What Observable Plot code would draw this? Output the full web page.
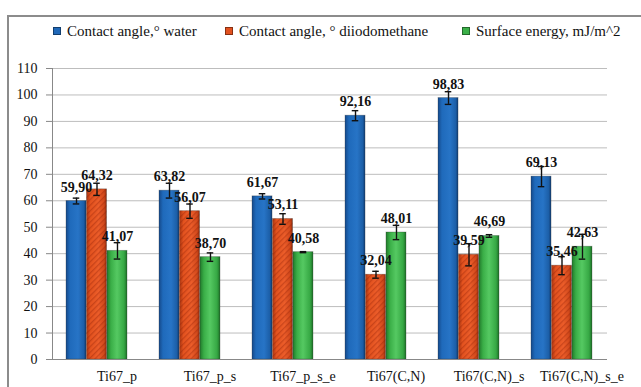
<!DOCTYPE html>
<html>
<head>
<meta charset="utf-8">
<script src="https://cdn.jsdelivr.net/npm/d3@7"></script>
<script src="https://cdn.jsdelivr.net/npm/@observablehq/plot@0.6"></script>
<style>
  body { margin: 0; background: #fff; font-family: "Liberation Serif", "Times New Roman", "DejaVu Serif", serif; }
  #wrap { position: relative; width: 641px; height: 387px; overflow: hidden; background: #fff; }
  #frame { position: absolute; left: 7px; top: 15px; width: 700px; height: 500px; border: 2px solid #8c8c8c; box-sizing: border-box; }
  #legend { position: absolute; left: 0; top: 22px; width: 641px; height: 18px; font-size: 15px; color: #111; white-space: nowrap; }
  .item { position: absolute; top: 0; display: flex; align-items: center; height: 18px; }
  .sw { width: 6px; height: 6px; margin-right: 6px; border: 0.5px solid rgba(0,0,0,0.4); }
  #chart { position: absolute; left: 0; top: 40px; }
  #chart svg text { font-family: "Liberation Serif", "Times New Roman", "DejaVu Serif", serif; }
</style>
</head>
<body>
<div id="wrap">
  <div id="frame"></div>
  <div id="legend"></div>
  <div id="chart"></div>
</div>
<script>
const categories = ["Ti67_p", "Ti67_p_s", "Ti67_p_s_e", "Ti67(C,N)", "Ti67(C,N)_s", "Ti67(C,N)_s_e"];
const seriesNames = ["Contact angle,° water", "Contact angle, ° diiodomethane", "Surface energy, mJ/m^2"];
const water = [59.90, 63.82, 61.67, 92.16, 98.83, 69.13];
const waterErr = [1.1, 2.8, 1.0, 1.9, 2.4, 3.8];
const diiodomethane = [64.32, 56.07, 53.11, 32.04, 39.59, 35.46];
const diiodomethaneErr = [2.3, 2.7, 2.0, 1.3, 4.2, 3.4];
const surfaceEnergy = [41.07, 38.70, 40.58, 48.01, 46.69, 42.63];
const surfaceEnergyErr = [3.1, 1.6, 0.2, 2.7, 0.5, 4.7];
const yTicks = [0, 10, 20, 30, 40, 50, 60, 70, 80, 90, 100, 110];
const swatchColors = ["#1f68b8", "#e2511f", "#3bb048"];
const barFills = ["url(#gBlue)", "url(#gRed)", "url(#gGreen)"];
const legendLeft = [53, 225, 462];

const seriesValues = [water, diiodomethane, surfaceEnergy];
const seriesErrs = [waterErr, diiodomethaneErr, surfaceEnergyErr];
const fmt = v => v.toFixed(2).replace(".", ",");

// legend
const legend = document.getElementById("legend");
seriesNames.forEach((s, j) => {
  const it = document.createElement("span");
  it.className = "item";
  it.style.left = legendLeft[j] + "px";
  it.innerHTML = `<span class="sw" style="background:${swatchColors[j]}"></span><span>${s}</span>`;
  legend.appendChild(it);
});

const W = 641, H = 347, mL = 52, mR = 34, mT = 28, mB = 28;
const xOpts = {type: "band", domain: categories, paddingInner: 0.34, paddingOuter: 0.15};
const xs = Plot.scale({x: {...xOpts, range: [mL, W - mR]}});
const sub = xs.bandwidth / 3;

const rowsBy = seriesNames.map((s, j) => categories.map((cat, i) => ({cat, value: seriesValues[j][i], err: seriesErrs[j][i]})));
const geo = j => ({left: j * sub, right: (2 - j) * sub, off: (j - 1) * sub});

const marks = [
  Plot.gridY(yTicks, {stroke: "#bdbdbd", strokeOpacity: 1}),
  Plot.axisY(yTicks, {tickSize: 6, tickPadding: 9, stroke: "#888", fontSize: 14, label: null, tickFormat: d => d}),
  Plot.axisX({tickSize: 0, tickPadding: 12, dx: 20, fontSize: 14, label: null})
];
seriesNames.forEach((s, j) => {
  const {left, right} = geo(j);
  marks.push(Plot.barY(rowsBy[j], {x: "cat", y: "value", insetLeft: left, insetRight: right, fill: barFills[j], stroke: "#2a2a2a", strokeOpacity: 0.35, strokeWidth: 0.8}));
  if (j === 1) marks.push(Plot.barY(rowsBy[j], {x: "cat", y: "value", insetLeft: left, insetRight: right, fill: "url(#hatch)"}));
});
marks.push(Plot.ruleY([0], {stroke: "#888"}), Plot.frame({anchor: "left", stroke: "#888"}));
seriesNames.forEach((s, j) => {
  const {left, right, off} = geo(j);
  const capL = left + sub / 2 - 3.5, capR = right + sub / 2 - 3.5;
  marks.push(
    Plot.ruleX(rowsBy[j], {x: "cat", y1: d => d.value - d.err, y2: d => d.value + d.err, dx: off, stroke: "#111", strokeWidth: 1.4}),
    Plot.tickY(rowsBy[j], {x: "cat", y: d => d.value - d.err, insetLeft: capL, insetRight: capR, stroke: "#111", strokeWidth: 1.4}),
    Plot.tickY(rowsBy[j], {x: "cat", y: d => d.value + d.err, insetLeft: capL, insetRight: capR, stroke: "#111", strokeWidth: 1.4})
  );
});
seriesNames.forEach((s, j) => {
  const {off} = geo(j);
  marks.push(Plot.text(rowsBy[j], {x: "cat", y: "value", text: d => fmt(d.value), dx: off, dy: -14, fontWeight: "bold", fontSize: 14, fill: "#111"}));
});

const chart = Plot.plot({
  width: W,
  height: H,
  marginTop: mT,
  marginBottom: mB,
  marginLeft: mL,
  marginRight: mR,
  style: {fontSize: "14px", color: "#111", background: "transparent"},
  x: {...xOpts, label: null, axis: null},
  y: {domain: [0, 110], label: null},
  marks
});

const defs = `<defs>
  <linearGradient id="gBlue" x1="0" x2="1" y1="0" y2="0">
    <stop offset="0" stop-color="#15498a"/><stop offset="0.2" stop-color="#1f6abb"/>
    <stop offset="0.6" stop-color="#2774c6"/><stop offset="0.88" stop-color="#1c5fa8"/><stop offset="1" stop-color="#113d74"/>
  </linearGradient>
  <linearGradient id="gRed" x1="0" x2="1" y1="0" y2="0">
    <stop offset="0" stop-color="#a93611"/><stop offset="0.2" stop-color="#e4531f"/>
    <stop offset="0.6" stop-color="#ec5d2a"/><stop offset="0.88" stop-color="#d2491b"/><stop offset="1" stop-color="#8a2a0c"/>
  </linearGradient>
  <linearGradient id="gGreen" x1="0" x2="1" y1="0" y2="0">
    <stop offset="0" stop-color="#217a2b"/><stop offset="0.2" stop-color="#3aae47"/>
    <stop offset="0.5" stop-color="#55c962"/><stop offset="0.85" stop-color="#36a844"/><stop offset="1" stop-color="#1d6f27"/>
  </linearGradient>
  <pattern id="hatch" width="4" height="4" patternUnits="userSpaceOnUse" patternTransform="rotate(45)">
    <rect width="1.3" height="4" fill="rgba(140,30,5,0.35)"/>
  </pattern>
</defs>`;
chart.insertAdjacentHTML("afterbegin", defs);
document.getElementById("chart").appendChild(chart);
</script>
</body>
</html>
